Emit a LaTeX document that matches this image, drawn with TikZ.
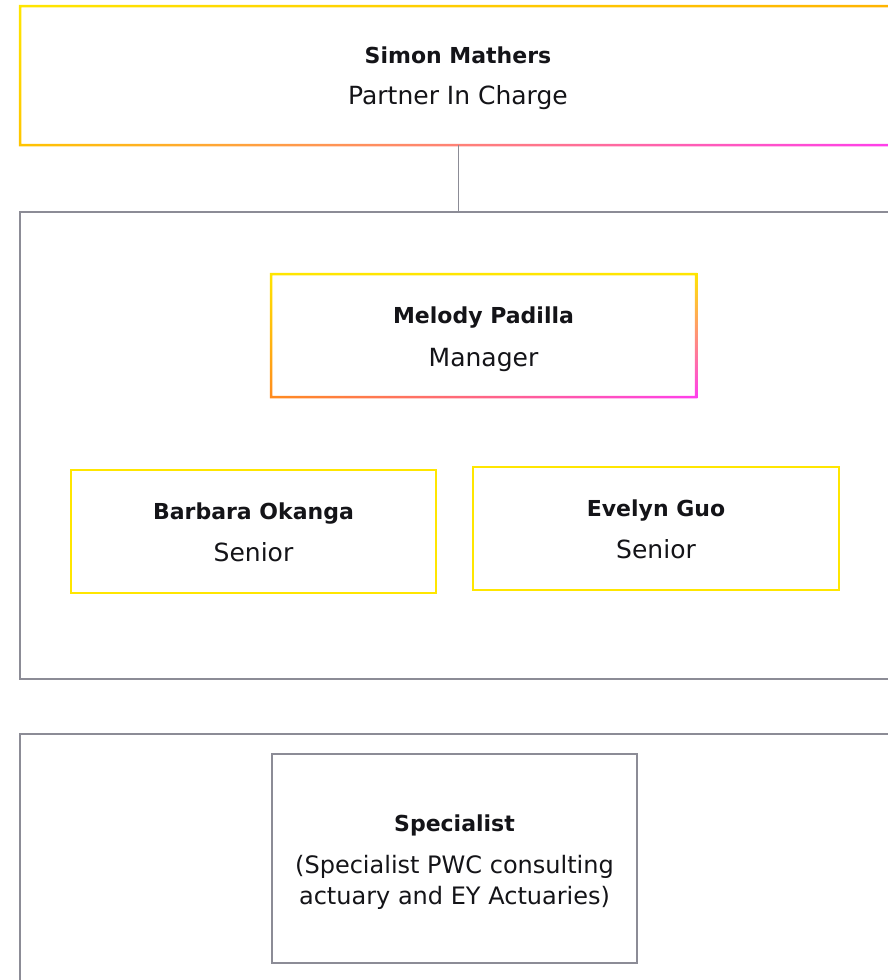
\documentclass[tikz,border=0pt]{standalone}
\usepackage{fontspec}
\usetikzlibrary{shadings}
\setmainfont{DejaVu Sans}
\definecolor{ink}{HTML}{141418}
\definecolor{eyY}{HTML}{FFE600}
\definecolor{eyAmber}{HTML}{FFB400}
\definecolor{eyGold}{HTML}{FFC400}
\definecolor{eyOr}{HTML}{FF8A1E}
\definecolor{eyMag}{HTML}{FF3CF0}
\definecolor{frame}{RGB}{140,140,150}
\tikzset{
  boxnode/.style={draw=none, inner sep=0pt, outer sep=0pt},
  graybox/.style={draw=frame, line width=1.5pt, inner sep=0pt, outer sep=0pt, fill=white},
  yelbox/.style={draw=eyY, line width=2.5pt, inner sep=0pt, outer sep=0pt},
  conn/.style={draw=frame, line width=1pt},
  nm/.style={anchor=base, inner sep=0pt, text=ink, font=\bfseries\fontsize{22}{26}\selectfont},
  rl/.style={anchor=base, inner sep=0pt, text=ink, font=\fontsize{25}{28}\selectfont},
}
\newcommand\gradframe[5]{%
  \shade[even odd rule, upper left=#2, upper right=#3, lower left=#4, lower right=#5]
    ([shift={(-1.25pt,1.25pt)}]#1.north west) rectangle ([shift={(1.25pt,-1.25pt)}]#1.south east)
    ([shift={(1.25pt,-1.25pt)}]#1.north west) rectangle ([shift={(-1.25pt,1.25pt)}]#1.south east);}
\begin{document}
\begin{tikzpicture}[x=1pt,y=-1pt]
\useasboundingbox (0,0) rectangle (888,980);
\clip (0,0) rectangle (888,980);
% top box
\node[boxnode, minimum width=876pt, minimum height=139pt] (top) at (458,75.5) {};
\gradframe{top}{eyY}{eyAmber}{eyGold}{eyMag}
\node[nm] (topname) at (458,63) {Simon Mathers};
\node[rl] (toprole) at (458,104) {Partner In Charge};
% team container
\node[graybox, minimum width=876pt, minimum height=467pt] (team) at (458,445.5) {};
\draw[conn] (top.south) -- (team.north);
% manager
\node[boxnode, minimum width=425pt, minimum height=123pt] (mel) at (483.5,335.5) {};
\gradframe{mel}{eyY}{eyY}{eyOr}{eyMag}
\node[nm] (melname) at (483.5,323) {Melody Padilla};
\node[rl] (melrole) at (483.5,366) {Manager};
% seniors
\node[yelbox, minimum width=365pt, minimum height=123pt] (bar) at (253.5,531.5) {};
\node[nm] (barname) at (253.5,519) {Barbara Okanga};
\node[rl] (barrole) at (253.5,561) {Senior};
\node[yelbox, minimum width=366pt, minimum height=123pt] (eve) at (656,528.5) {};
\node[nm] (evename) at (656,516) {Evelyn Guo};
\node[rl] (everole) at (656,558) {Senior};
% specialist container
\node[graybox, minimum width=876pt, minimum height=280pt] (spc) at (458,874) {};
\node[graybox, minimum width=365pt, minimum height=209pt] (spec) at (454.5,858.5) {};
\node[nm] (specname) at (454.5,831) {Specialist};
\node[rl, align=center, anchor=base, font=\fontsize{24}{31}\selectfont] (specrole) at (454.5,904) {(Specialist PWC consulting\\actuary and EY Actuaries)};
\end{tikzpicture}
\end{document}
